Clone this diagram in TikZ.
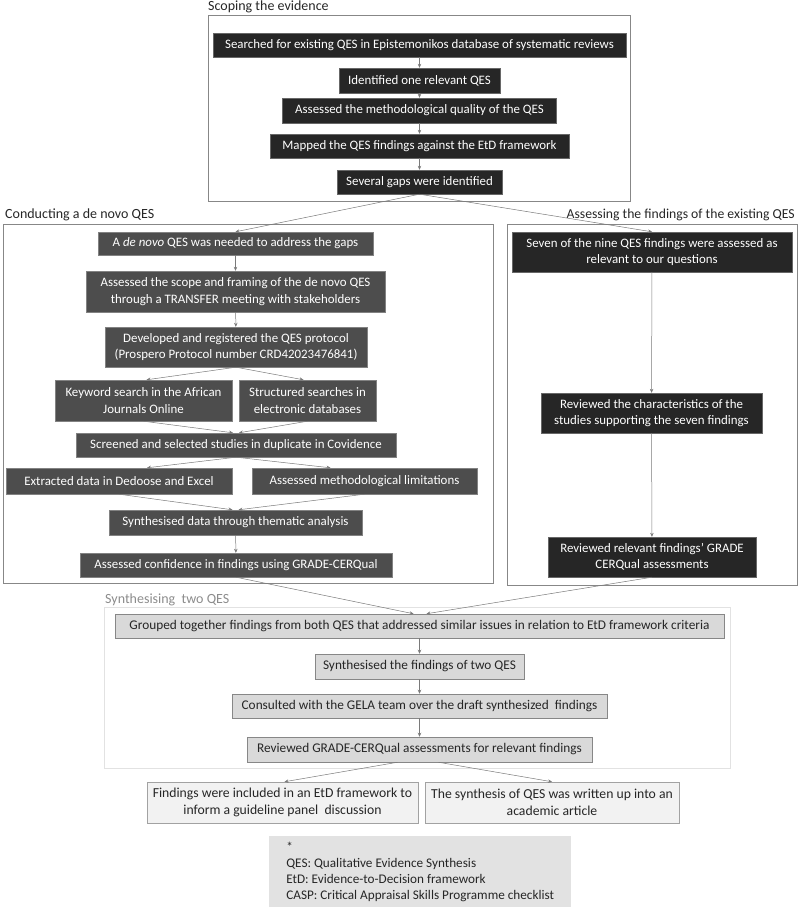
\documentclass[tikz,border=0pt]{standalone}
\usepackage{fontspec}
\setmainfont{Carlito}
\usetikzlibrary{arrows.meta,calc}
\definecolor{dk}{HTML}{262626}
\definecolor{md}{HTML}{4D4D4D}
\definecolor{lt}{HTML}{D9D9D9}
\definecolor{fn}{HTML}{F2F2F2}
\definecolor{lg}{HTML}{E2E2E2}
\definecolor{ln}{HTML}{7A7A7A}
\begin{document}
\begin{tikzpicture}[x=1pt,y=-1pt,
  base/.style={rectangle,inner sep=0pt,align=center,font=\fontsize{12.9}{16.5}\selectfont},
  dkbox/.style={base,fill=dk,draw=dk!70!white,line width=0.4pt,text=white},
  mdbox/.style={base,fill=md,draw=md!70!white,line width=0.4pt,text=white},
  ltbox/.style={base,fill=lt,draw=ln!90!white,line width=0.5pt,text=black!85,font=\fontsize{13.3}{16.5}\selectfont},
  fnbox/.style={base,fill=fn,draw=ln!70!white,line width=0.5pt,text=black!85,font=\fontsize{13.7}{16.5}\selectfont},
  grp/.style={draw=ln!90!white,line width=0.6pt},
  ttl/.style={inner sep=0pt,font=\fontsize{14}{16}\selectfont,text=black!85},
  arr/.style={draw=ln,line width=0.5pt,-{Stealth[length=4pt,width=3.5pt]}}]
\useasboundingbox (0,0) rectangle (800,909);

% group frames
\draw[grp] (208,15) rectangle (630,201);
\draw[grp] (3,224) rectangle (493,583);
\draw[grp] (507,224) rectangle (797,585);
\draw[draw=lg,line width=0.6pt] (104,607) rectangle (730,768);

% titles
\node[ttl,anchor=west] (t1) at (208,7) {Scoping the evidence};
\node[ttl,anchor=west] (t2) at (5,215) {Conducting a de novo QES};
\node[ttl,anchor=east,font=\fontsize{13.7}{16}\selectfont] (t3) at (795,215) {Assessing the findings of the existing QES};
\node[ttl,anchor=west,text=black!45] (t4) at (105,600) {Synthesising\ \ two QES};

% scoping
\node[dkbox,minimum width=413,minimum height=24] (s1) at (419.5,45) {Searched for existing QES in Epistemonikos database of systematic reviews};
\node[dkbox,minimum width=161,minimum height=25] (s2) at (419.5,80.5) {Identified one relevant QES};
\node[dkbox,minimum width=274,minimum height=25] (s3) at (419.5,110.5) {Assessed the methodological quality of the QES};
\node[dkbox,minimum width=299,minimum height=24] (s4) at (419.5,146) {Mapped the QES findings against the EtD framework};
\node[dkbox,minimum width=165,minimum height=24] (s5) at (419.5,182) {Several gaps were identified};

% left
\node[mdbox,minimum width=275,minimum height=23] (l1) at (235.5,243.5) {A \emph{de novo} QES was needed to address the gaps};
\node[mdbox,minimum width=299,minimum height=41] (l2) at (235.5,291.5) {Assessed the scope and framing of the de novo QES\\through a TRANSFER meeting with stakeholders};
\node[mdbox,minimum width=262,minimum height=40] (l3) at (236,347) {Developed and registered the QES protocol\\(Prospero Protocol number CRD42023476841)};
\node[mdbox,minimum width=177,minimum height=41] (l4) at (143.5,400.5) {Keyword search in the African\\Journals Online};
\node[mdbox,minimum width=137,minimum height=41] (l5) at (307.5,400.5) {Structured searches in\\electronic databases};
\node[mdbox,minimum width=320,minimum height=24] (l6) at (236,445) {Screened and selected studies in duplicate in Covidence};
\node[mdbox,minimum width=226,minimum height=26] (l7) at (119,481) {Extracted data in Dedoose and Excel};
\node[mdbox,minimum width=225,minimum height=26] (l8) at (364.5,481) {Assessed methodological limitations};
\node[mdbox,minimum width=253,minimum height=25] (l9) at (235.5,522.5) {Synthesised data through thematic analysis};
\node[mdbox,minimum width=312,minimum height=24] (l10) at (236,565) {Assessed confidence in findings using GRADE-CERQual};

% right
\node[dkbox,minimum width=280,minimum height=40] (r1) at (652,252) {Seven of the nine QES findings were assessed as\\relevant to our questions};
\node[dkbox,minimum width=221,minimum height=40] (r2) at (651.5,413) {Reviewed the characteristics of the\\studies supporting the seven findings};
\node[dkbox,minimum width=208,minimum height=40] (r3) at (652,557) {Reviewed relevant findings' GRADE\\CERQual assessments};

% synthesis
\node[ltbox,minimum width=609,minimum height=24] (g1) at (419.5,626) {Grouped together findings from both QES that addressed similar issues in relation to EtD framework criteria};
\node[ltbox,minimum width=209,minimum height=25] (g2) at (419.5,666.5) {Synthesised the findings of two QES};
\node[ltbox,minimum width=375,minimum height=24] (g3) at (419.5,706) {Consulted with the GELA team over the draft synthesized\ \ findings};
\node[ltbox,minimum width=345,minimum height=25] (g4) at (419.5,749.5) {Reviewed GRADE-CERQual assessments for relevant findings};

% final
\node[fnbox,minimum width=271,minimum height=41] (f1) at (282.5,802.5) {Findings were included in an EtD framework to\\inform a guideline panel\ \ discussion};
\node[fnbox,minimum width=254,minimum height=41] (f2) at (552,802.5) {The synthesis of QES was written up into an\\academic article};

% legend
\node[base,fill=lg,minimum width=302,minimum height=71,align=left,anchor=north west,text=black!85,
  font=\fontsize{13.2}{16}\selectfont,inner xsep=4pt] (lgd) at (269,836)
  {*\\QES: Qualitative Evidence Synthesis\\EtD: Evidence-to-Decision framework\\CASP: Critical Appraisal Skills Programme checklist};

% connectors
\draw[arr] (s1) -- (s2);
\draw[arr] (s2) -- (s3);
\draw[arr] (s3) -- (s4);
\draw[arr] (s4) -- (s5);
\draw[arr] (s5.south) -- (l1.north);
\draw[arr] (s5.south) -- (r1.north);
\draw[arr] (l1) -- (l2);
\draw[arr] (l2) -- (l3);
\draw[arr] (l3.south) -- ($(l4.north)+(3,0)$);
\draw[arr] (l3.south) -- ($(l5.north)+(-4,0)$);
\draw[arr] (l4.south) -- ($(l6.north)+(-3,0)$);
\draw[arr] (l5.south) -- ($(l6.north)+(3,0)$);
\draw[arr] (l6.south) -- ($(l7.north)+(28,0)$);
\draw[arr] (l6.south) -- ($(l8.north)+(-34,0)$);
\draw[arr] (l7.south) -- ($(l9.north)+(-3,0)$);
\draw[arr] (l8.south) -- ($(l9.north)+(3,0)$);
\draw[arr] (l9) -- (l10);
\draw[arr] (r1) -- (r2);
\draw[arr] (r2) -- (r3);
\draw[arr] (l10.south) -- ($(g1.north)+(-6,0)$);
\draw[arr] (r3.south) -- ($(g1.north)+(7,0)$);
\draw[arr] (g1) -- (g2);
\draw[arr] (g2) -- (g3);
\draw[arr] (g3) -- (g4);
\draw[arr] ($(g4.south)+(-22,0)$) -- ($(f1.north)+(2,0)$);
\draw[arr] ($(g4.south)+(19,0)$) -- (f2.north);
\end{tikzpicture}
\end{document}
